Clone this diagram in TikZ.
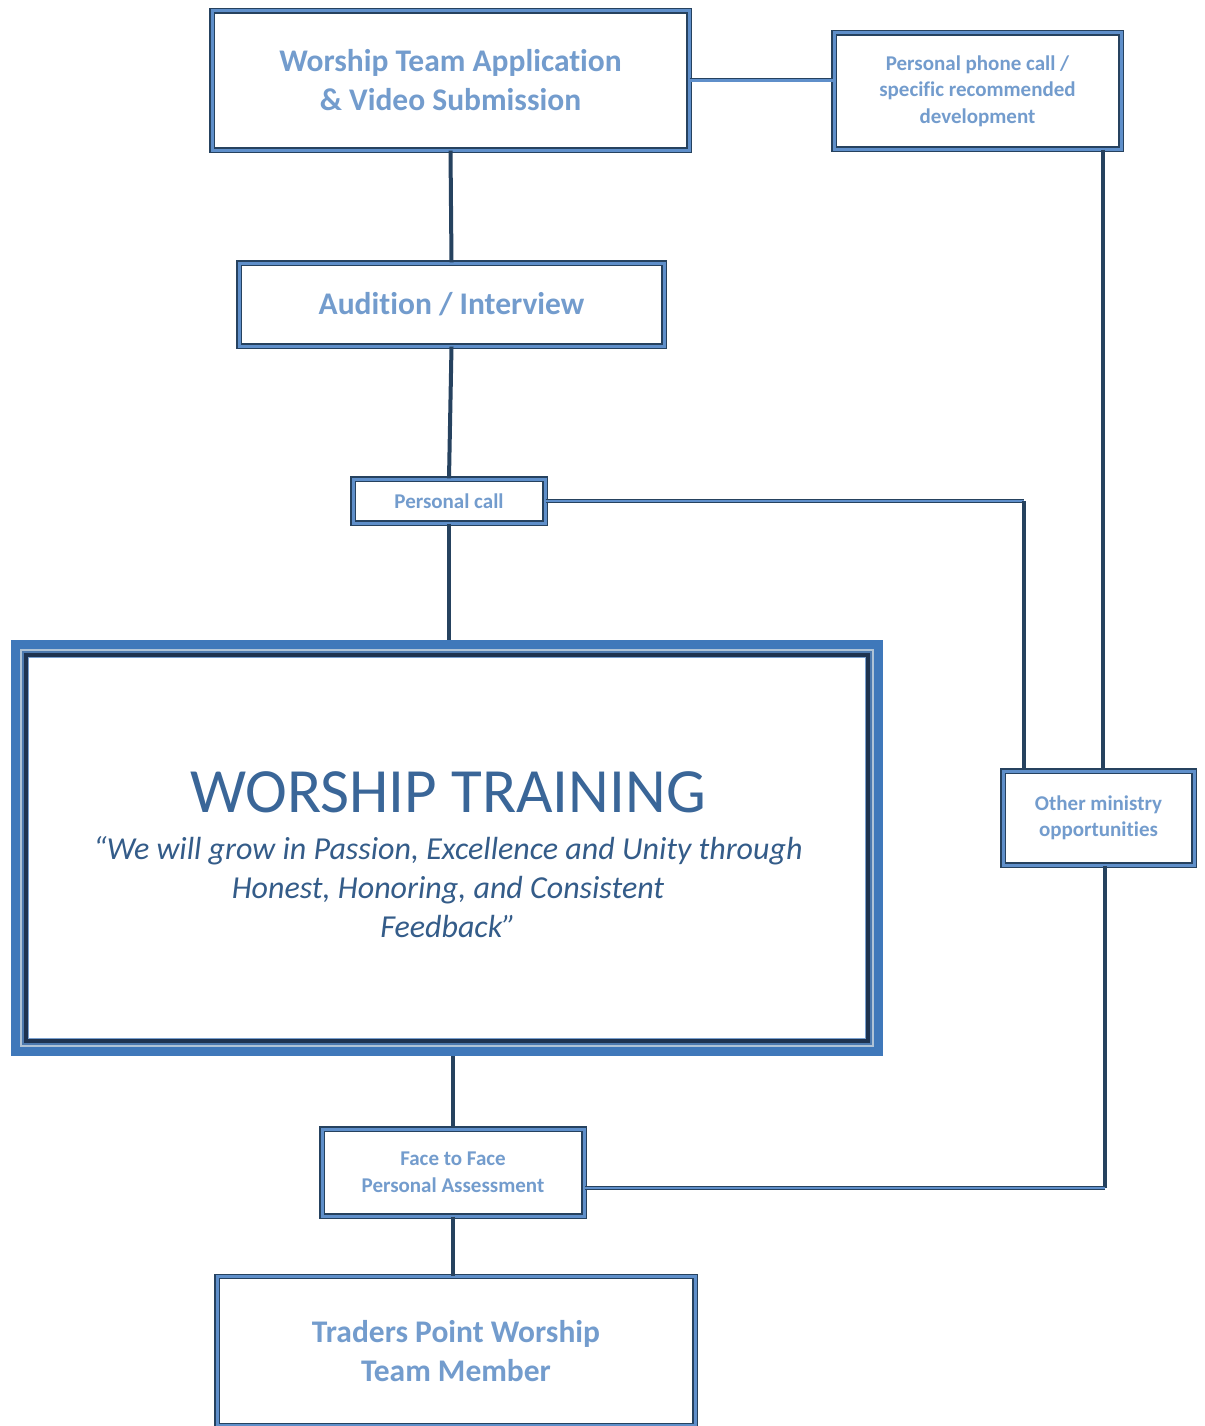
\documentclass[tikz,border=0pt]{standalone}
\usepackage{fontspec}
\setmainfont{Carlito}[Ligatures=NoCommon]
\definecolor{txtblue}{HTML}{739CCD}
\definecolor{deepblue}{HTML}{3A6698}
\definecolor{edgedark}{HTML}{26425F}
\definecolor{edgemid}{HTML}{5F8FCA}
\definecolor{framemid}{HTML}{3F78BA}
\definecolor{framegray}{HTML}{AFC3D6}
\definecolor{framenavy}{HTML}{1E3350}
\begin{document}
\begin{tikzpicture}[x=1pt,y=-1pt,
  box/.style={draw=edgedark, double=edgemid, line width=1.3pt, double distance=3pt,
    fill=white, align=center, inner sep=0pt, text=txtblue, font=\bfseries},
  bigtxt/.style={font=\bfseries\fontsize{31.5}{39}\selectfont},
  smalltxt/.style={font=\bfseries\fontsize{21}{26.5}\selectfont},
  conn/.style={draw=edgedark, line width=4pt},
  hconn/.style={draw=edgedark, line width=4pt, postaction={draw=edgemid, line width=2.4pt}}
]
\useasboundingbox (0,0) rectangle (1204,1426);

% main training box (outer edge 11..883 x 640..1056)
\node[draw=none, fill=white, minimum width=872, minimum height=416, inner sep=0pt] (train) at (447,848) {};
\draw[framemid, line width=9pt] ([shift={(4.5,4.5)}]train.north west) rectangle ([shift={(-4.5,-4.5)}]train.south east);
\draw[framegray, line width=2.5pt] ([shift={(10,10)}]train.north west) rectangle ([shift={(-10,-10)}]train.south east);
\draw[framemid!80!gray, line width=2.5pt] ([shift={(12.5,12.5)}]train.north west) rectangle ([shift={(-12.5,-12.5)}]train.south east);
\draw[framenavy, line width=4pt] ([shift={(15.5,15.5)}]train.north west) rectangle ([shift={(-15.5,-15.5)}]train.south east);
\draw[framemid!70!white, line width=1.2pt] ([shift={(18,18)}]train.north west) rectangle ([shift={(-18,-18)}]train.south east);
\node[text=deepblue, font=\fontsize{63}{70}\selectfont, inner sep=0pt] (title) at (448,792)
  {WORSHIP TRAINING};
\node[text=deepblue!90!black, font=\itshape\fontsize{32}{39}\selectfont, align=center, inner sep=0pt,
      anchor=north] (quote) at (448,836)
  {“We will grow in Passion, Excellence and Unity through\\Honest, Honoring, and Consistent\\Feedback”};

% nodes
\node[box, bigtxt, minimum width=477, minimum height=139] (app) at (450.5,80.5)
  {Worship Team Application\\\& Video Submission};
\node[box, smalltxt, minimum width=287, minimum height=116] (phone) at (977.5,91)
  {Personal phone call /\\specific recommended\\development};
\node[box, bigtxt, minimum width=425, minimum height=83] (aud) at (451.5,304.5)
  {Audition / Interview};
\node[box, smalltxt, minimum width=192, minimum height=44] (pcall) at (449,501)
  {Personal call};
\node[box, smalltxt, minimum width=191, minimum height=94] (other) at (1098.5,818)
  {Other ministry\\opportunities};
\node[box, smalltxt, minimum width=262, minimum height=87] (face) at (453,1172.5)
  {Face to Face\\Personal Assessment};
\node[box, bigtxt, minimum width=478, minimum height=149] (member) at (456,1351)
  {Traders Point Worship\\Team Member};

% coordinates for bends
\coordinate (c1) at (1024,501);
\coordinate (c2) at (1103,0);
\coordinate (c3) at (1105,1188);

% connectors
\draw[hconn] (app.east) -- (app.east -| phone.west);
\draw[conn] (app.south) -- (aud.north);
\draw[conn] (aud.south) -- (pcall.north);
\draw[conn] (pcall.south) -- (pcall.south |- train.north);
\draw[hconn] (pcall.east) -- (c1);
\draw[conn] (c1) -- (c1 |- other.north);
\draw[conn] (phone.south -| c2) -- (other.north -| c2);
\draw[conn] (other.south -| c3) -- (c3);
\draw[hconn] (c3) -- (c3 -| face.east);
\draw[conn] (train.south -| face.north) -- (face.north);
\draw[conn] (face.south) -- (face.south |- member.north);
\end{tikzpicture}
\end{document}
